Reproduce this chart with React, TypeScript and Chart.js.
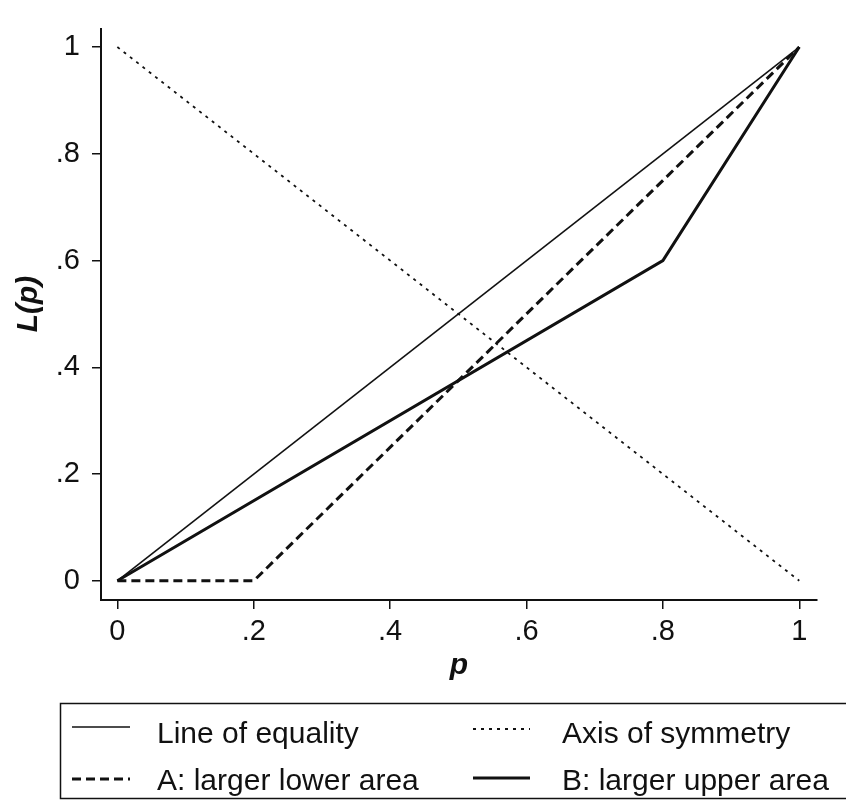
import React, { useEffect, useRef } from "react";
import { Chart, registerables } from "chart.js";

Chart.register(...registerables);

// Lorenz-type curves L(p) against population share p
const EQUALITY_P = [0, 1];
const EQUALITY_L = [0, 1];
const SYMMETRY_P = [0, 1];
const SYMMETRY_L = [1, 0];
const CURVE_A_P = [0, 0.2, 1];
const CURVE_A_L = [0, 0, 1];
const CURVE_B_P = [0, 0.8, 1];
const CURVE_B_L = [0, 0.6, 1];

const TICKS = [0, 0.2, 0.4, 0.6, 0.8, 1];
const TICK_LABELS = ["0", ".2", ".4", ".6", ".8", "1"];

const LEGEND_NAMES = [
  "Line of equality",
  "Axis of symmetry",
  "A: larger lower area",
  "B: larger upper area",
];

const INK = "#111";
const FONT = "'Liberation Sans', Arial, Helvetica, sans-serif";

const toPoints = (xs: number[], ys: number[]) => xs.map((x, i) => ({ x, y: ys[i] }));

const tickLabel = (v: number) => {
  const i = TICKS.findIndex((t) => Math.abs(t - v) < 1e-9);
  return i >= 0 ? TICK_LABELS[i] : "";
};

// Axis titles and the boxed legend below the plot
const decorations = {
  id: "decorations",
  afterDraw(chart: any) {
    const ctx = chart.ctx as CanvasRenderingContext2D;
    const area = chart.chartArea;
    ctx.save();
    ctx.fillStyle = INK;
    ctx.font = `italic bold 30px ${FONT}`;
    ctx.textAlign = "center";
    ctx.textBaseline = "alphabetic";
    ctx.fillText("p", (area.left + area.right) / 2, 674);
    ctx.save();
    ctx.textBaseline = "middle";
    ctx.translate(29, 304);
    ctx.rotate(-Math.PI / 2);
    ctx.fillText("L(p)", 0, 0);
    ctx.restore();

    // legend frame
    ctx.strokeStyle = INK;
    ctx.lineWidth = 1.5;
    ctx.setLineDash([]);
    ctx.strokeRect(60.5, 703.5, 800, 95);

    const ds = chart.data.datasets;
    const slots = [
      { x0: 72, x1: 130, ly: 727, tx: 157, ty: 743 },
      { x0: 473, x1: 530, ly: 729, tx: 562, ty: 743 },
      { x0: 72, x1: 130, ly: 779, tx: 157, ty: 790 },
      { x0: 473, x1: 530, ly: 778, tx: 562, ty: 790 },
    ];
    slots.forEach((s, i) => {
      const d = ds[i];
      ctx.beginPath();
      ctx.strokeStyle = d.borderColor;
      ctx.lineWidth = d.borderWidth;
      ctx.setLineDash(d.borderDash || []);
      ctx.moveTo(s.x0, s.ly);
      ctx.lineTo(s.x1, s.ly);
      ctx.stroke();
      ctx.setLineDash([]);
      ctx.fillStyle = INK;
      ctx.font = `30px ${FONT}`;
      ctx.textAlign = "left";
      ctx.textBaseline = "alphabetic";
      ctx.fillText(LEGEND_NAMES[i], s.tx, s.ty);
    });
    ctx.restore();
  },
};

export default function App() {
  const ref = useRef<HTMLCanvasElement | null>(null);

  useEffect(() => {
    if (!ref.current) return;
    const line = (
      label: string,
      xs: number[],
      ys: number[],
      width: number,
      dash: number[]
    ) => ({
      label,
      data: toPoints(xs, ys),
      showLine: true,
      borderColor: INK,
      backgroundColor: INK,
      borderWidth: width,
      borderDash: dash,
      pointRadius: 0,
      tension: 0,
      fill: false,
    });

    const axisCommon = (fit: (s: any) => void) => ({
      type: "linear" as const,
      grid: {
        display: true,
        drawOnChartArea: false,
        drawTicks: true,
        tickLength: 9,
        tickColor: INK,
        lineWidth: 1.5,
      },
      border: { display: true, color: INK, width: 2 },
      afterBuildTicks: (s: any) => {
        s.ticks = TICKS.map((value) => ({ value }));
      },
      afterFit: fit,
    });

    const chart = new Chart(ref.current, {
      type: "scatter",
      data: {
        datasets: [
          line(LEGEND_NAMES[0], EQUALITY_P, EQUALITY_L, 1.6, []),
          line(LEGEND_NAMES[1], SYMMETRY_P, SYMMETRY_L, 1.8, [3, 5]),
          line(LEGEND_NAMES[2], CURVE_A_P, CURVE_A_L, 3, [9, 5]),
          line(LEGEND_NAMES[3], CURVE_B_P, CURVE_B_L, 3, []),
        ],
      },
      options: {
        responsive: false,
        animation: false,
        devicePixelRatio: 1,
        layout: { padding: { top: 10, right: 29, left: 0, bottom: 0 } },
        plugins: { legend: { display: false }, tooltip: { enabled: false } },
        scales: {
          x: {
            ...axisCommon((s: any) => {
              s.height = 201;
            }),
            min: -0.024,
            max: 1.026,
            ticks: {
              autoSkip: false,
              maxRotation: 0,
              padding: 6,
              color: INK,
              font: { family: FONT, size: 29 },
              callback: (v: any) => tickLabel(Number(v)),
            },
          },
          y: {
            ...axisCommon((s: any) => {
              s.width = 101;
            }),
            min: -0.036,
            max: 1.033,
            ticks: {
              autoSkip: false,
              padding: 12,
              color: INK,
              font: { family: FONT, size: 29 },
              callback: (v: any) => tickLabel(Number(v)),
            },
          },
        },
      },
      plugins: [decorations],
    });
    return () => chart.destroy();
  }, []);

  return (
    <div style={{ position: "fixed", left: 0, top: 0, width: 846, height: 801, background: "#fff" }}>
      <canvas ref={ref} width={846} height={801} />
    </div>
  );
}
